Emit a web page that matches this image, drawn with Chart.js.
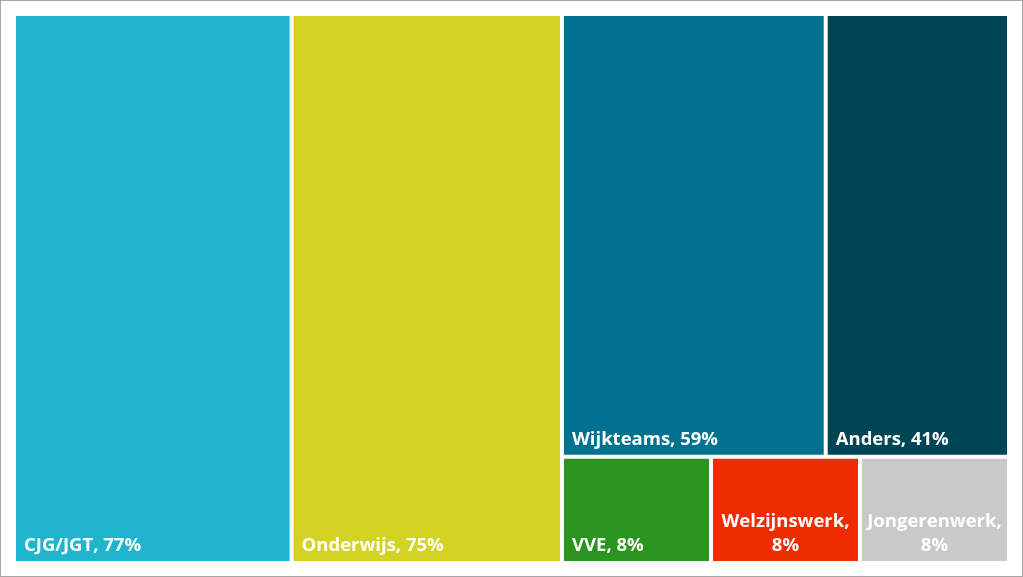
<!DOCTYPE html>
<html>
<head>
<meta charset="utf-8">
<script src="https://cdn.jsdelivr.net/npm/chart.js@4/dist/chart.umd.min.js"></script>
<style>
  html, body { margin: 0; padding: 0; background: #fff; }
  #wrap { width: 1023px; height: 577px; }
</style>
</head>
<body>
<div id="wrap"><canvas id="chart" width="1023" height="577"></canvas></div>
<script>
const categories = ['CJG/JGT', 'Onderwijs', 'Wijkteams', 'Anders', 'VVE', 'Welzijnswerk', 'Jongerenwerk'];
const percentages = [77, 75, 59, 41, 8, 8, 8];
const cellColors = ['#1FB5CD', '#D5D322', '#02718F', '#004556', '#2A961F', '#EE2C00', '#C9C9C9'];

// nesting of cells: top level splits left-to-right, next level top-to-bottom, and so on
const layoutTree = [0, 1, [[2, 3], [4, 5, 6]]];

const total = percentages.reduce((a, b) => a + b, 0);

function nodeSum(node) {
  return Array.isArray(node) ? node.reduce((s, n) => s + nodeSum(n), 0) : percentages[node];
}

// returns rectangles in value units (x and y both 0..total)
function layout(node, x, y, w, h, horizontal, out) {
  if (!Array.isArray(node)) {
    out.push({ i: node, x, y, w, h });
    return out;
  }
  const sum = nodeSum(node);
  let pos = 0;
  node.forEach((child) => {
    const part = nodeSum(child) / sum;
    if (horizontal) {
      layout(child, x + pos * w, y, w * part, h, false, out);
    } else {
      layout(child, x, y + pos * h, w, h * part, true, out);
    }
    pos += part;
  });
  return out;
}

const treemapPlugin = {
  id: 'treemapCells',
  beforeDraw(chart) {
    const ctx = chart.ctx;
    ctx.save();
    ctx.fillStyle = '#fff';
    ctx.fillRect(0, 0, chart.width, chart.height);
    ctx.strokeStyle = '#A6A6A6';
    ctx.lineWidth = 1;
    ctx.strokeRect(0.5, 0.5, chart.width - 1, chart.height - 1);
    ctx.restore();
  },
  afterDatasetsDraw(chart) {
    const ctx = chart.ctx;
    const xs = chart.scales.x;
    const ys = chart.scales.y;
    const gap = 2;
    const rects = layout(layoutTree, 0, 0, total, total, true, []);
    ctx.save();
    rects.forEach((r) => {
      const left = xs.getPixelForValue(r.x) + gap;
      const right = xs.getPixelForValue(r.x + r.w) - gap;
      const top = ys.getPixelForValue(r.y) + gap;
      const bottom = ys.getPixelForValue(r.y + r.h) - gap;
      ctx.fillStyle = cellColors[r.i];
      ctx.fillRect(left, top, right - left, bottom - top);

      // label
      ctx.fillStyle = '#fff';
      ctx.font = 'bold 18.5px "Open Sans", sans-serif';
      ctx.textBaseline = 'alphabetic';
      const text = categories[r.i] + ', ' + percentages[r.i] + '%';
      const cw = right - left;
      if (ctx.measureText(text).width + 16 <= cw) {
        ctx.textAlign = 'left';
        ctx.fillText(text, left + 8, bottom - 10);
      } else {
        ctx.textAlign = 'center';
        const cx = (left + right) / 2;
        ctx.fillText(categories[r.i] + ',', cx, bottom - 34);
        ctx.fillText(percentages[r.i] + '%', cx, bottom - 10);
      }
    });
    ctx.restore();
  }
};

new Chart(document.getElementById('chart'), {
  type: 'scatter',
  data: {
    labels: categories,
    datasets: [{ label: 'Percentage', data: [], pointRadius: 0 }]
  },
  options: {
    responsive: false,
    animation: false,
    layout: { padding: 14 },
    scales: {
      x: { type: 'linear', min: 0, max: total, display: false },
      y: { type: 'linear', min: 0, max: total, reverse: true, display: false }
    },
    plugins: {
      legend: { display: false },
      tooltip: { enabled: false }
    }
  },
  plugins: [treemapPlugin]
});
</script>
</body>
</html>
